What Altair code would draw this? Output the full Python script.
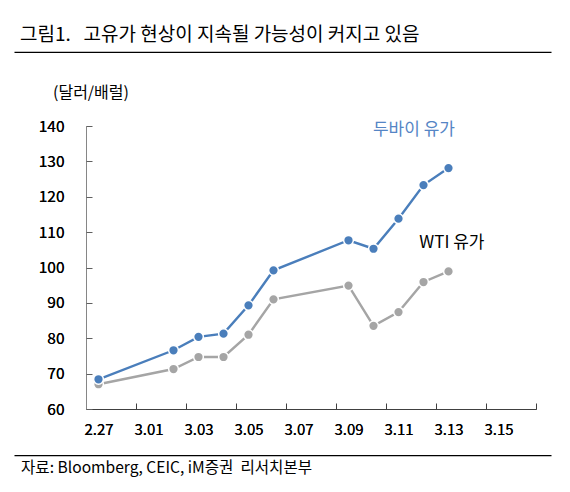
import altair as alt
import pandas as pd

plotWidth = 450
plotHeight = 283
fontName = "Noto Sans CJK KR"

# 종가 (달러/배럴)
dates = ["2026-02-27", "2026-03-02", "2026-03-03", "2026-03-04", "2026-03-05",
         "2026-03-06", "2026-03-09", "2026-03-10", "2026-03-11", "2026-03-12",
         "2026-03-13"]
dubai = [68.4, 76.6, 80.4, 81.3, 89.3, 99.2, 107.7, 105.3, 113.8, 123.3, 128.1]
wti = [67.0, 71.3, 74.7, 74.7, 81.0, 91.0, 94.9, 83.5, 87.4, 95.9, 98.9]

series = ["두바이 유가", "WTI 유가"]
lineColors = ["#4a7ebb", "#a5a5a5"]
labelDates = ["2026-03-10T11:30:00", "2026-03-12T08:00:00"]
labelValues = [138.9, 107.0]
labelColors = ["#5585c5", "#000000"]

yTicks = list(range(60, 141, 10))
# SVG에서 연속 공백이 합쳐지지 않도록 NBSP 사용
title = "그림1.\u00a0\u00a0 고유가 현상이 지속될 가능성이 커지고 있음"
unit = "(달러/배럴)"
source = "자료: Bloomberg, CEIC, iM증권\u00a0 리서치본부"


def day(ts):
    ts = pd.Timestamp(ts)
    return alt.DateTime(year=ts.year, month=ts.month, date=ts.day)


labelTicks = [day(t) for t in pd.date_range("2026-02-27", periods=9, freq="2D")]
innerTicks = [day(t) for t in pd.date_range("2026-03-01", periods=9, freq="2D")]
xScale = alt.Scale(domain=[day("2026-02-27"), day("2026-03-17")])
yScale = alt.Scale(domain=[60, 140])

# 하루의 가운데(정오)에 점을 찍는다
noon = (pd.to_datetime(dates) + pd.Timedelta(hours=12)).strftime("%Y-%m-%dT%H:%M:%S")
df = pd.concat([
    pd.DataFrame({"date": noon, "value": wti, "series": series[1]}),
    pd.DataFrame({"date": noon, "value": dubai, "series": series[0]}),
])
labels = pd.DataFrame({"date": labelDates, "value": labelValues,
                       "series": series, "color": labelColors})

xMain = alt.X("date:T", scale=xScale, title=None, axis=alt.Axis(
    values=labelTicks, format="%-m.%d", labelOffset=12.5, ticks=False,
    tickSize=0, labelPadding=13, labelFlush=False, domainColor="#404040",
    labelFontSize=15, labelColor="#000000", orient="bottom"))
yMain = alt.Y("value:Q", scale=yScale, title=None, axis=alt.Axis(
    values=yTicks, ticks=False, tickSize=0, labelPadding=22,
    domainColor="#868686", labelFontSize=15.5, labelColor="#000000",
    orient="left"))


def mark_series(name, color):
    base = alt.Chart(df).transform_filter(
        alt.datum.series == name
    ).encode(x=xMain, y=yMain)
    line = base.mark_line(color=color, strokeWidth=2.4)
    points = base.mark_circle(
        color=color, size=95, opacity=1, stroke="white", strokeWidth=1.5)
    return line + points


# 안쪽으로 향하는 눈금
ticks = alt.Chart(df).mark_point(opacity=0).encode(
    x=alt.X("date:T", scale=xScale, title=None, axis=alt.Axis(
        values=innerTicks, labels=False, domain=False, tickSize=6,
        tickColor="#404040", orient="top", offset=-plotHeight)),
    y=alt.Y("value:Q", scale=yScale, title=None, axis=alt.Axis(
        values=yTicks, labels=False, domain=False, tickSize=6,
        tickColor="#606060", orient="right", offset=-plotWidth)),
)

seriesText = alt.Chart(labels).mark_text(
    align="left", baseline="middle", fontSize=17
).encode(
    x=alt.X("date:T", scale=xScale, axis=None),
    y=alt.Y("value:Q", scale=yScale, axis=None),
    text="series:N",
    color=alt.Color("color:N", scale=None),
)

one = pd.DataFrame({"t": [0]})
titleText = alt.Chart(one).mark_text(
    text=title, align="left", baseline="middle", fontSize=19, color="#000000"
).encode(x=alt.value(-66), y=alt.value(-91))
unitText = alt.Chart(one).mark_text(
    text=unit, align="left", baseline="middle", fontSize=16, color="#000000"
).encode(x=alt.value(-33), y=alt.value(-33))
sourceText = alt.Chart(one).mark_text(
    text=source, align="left", baseline="middle", fontSize=15.6, color="#000000"
).encode(x=alt.value(-65), y=alt.value(342))
topRule = alt.Chart(one).mark_rule(color="#000000", strokeWidth=1.2).encode(
    x=alt.value(-71.5), x2=alt.value(465.5), y=alt.value(-73.7))
bottomRule = alt.Chart(one).mark_rule(color="#000000", strokeWidth=1.2).encode(
    x=alt.value(-71.5), x2=alt.value(465.5), y=alt.value(329.7))

chart = alt.layer(
    mark_series(series[1], lineColors[1]),
    mark_series(series[0], lineColors[0]),
    ticks,
    seriesText,
    titleText, unitText, sourceText, topRule, bottomRule,
).resolve_axis(
    x="independent", y="independent"
).properties(
    width=plotWidth,
    height=plotHeight,
    autosize=alt.AutoSizeParams(type="none"),
    padding={"left": 78, "top": 118, "right": 26, "bottom": 75},
    background="white",
).configure(
    font=fontName
).configure_view(
    stroke=None
).configure_axis(
    grid=False, labelFont=fontName
)

chart.save("out.html", embed_options={"renderer": "svg", "actions": False})
